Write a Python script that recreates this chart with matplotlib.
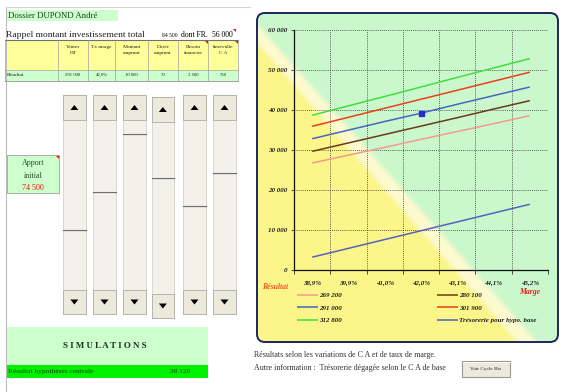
"""Simulation dashboard: résultat selon CA et taux de marge (dossier DUPOND)."""
import numpy as np
import matplotlib
matplotlib.use("Agg")
import matplotlib.pyplot as plt
from matplotlib.patches import Rectangle, FancyBboxPatch, Polygon

W, H = 570, 392
SERIF = ["Liberation Serif", "DejaVu Serif"]

# ── Data ──────────────────────────────────────────────────────────────────────
MARGINS = ["38,9%", "39,9%", "41,0%", "42,0%", "43,1%", "44,1%", "45,2%"]
RES_269200 = [26700, 28650, 30600, 32600, 34550, 36500, 38500]
RES_280100 = [29600, 31700, 33800, 35900, 38000, 40150, 42250]
RES_291000 = [32750, 34900, 37050, 39120, 41350, 43500, 45650]
RES_301900 = [35850, 38100, 40350, 42600, 44850, 47100, 49350]
RES_312800 = [38600, 40950, 43300, 45650, 48050, 50400, 52750]
TRESORERIE = [3200, 5400, 7600, 9800, 12000, 14200, 16400]
CENTRAL_MARGIN = "42,0%"
CENTRAL_RESULT = 39120
Y_TICKS = [0, 10000, 20000, 30000, 40000, 50000, 60000]

SERIES = [
    ("269 200", RES_269200, "#F29C8E"),
    ("280 100", RES_280100, "#6B3A1A"),
    ("291 000", RES_291000, "#4466C4"),
    ("301 900", RES_301900, "#E8401C"),
    ("312 800", RES_312800, "#3EE03E"),
    ("Trésorerie pour hypo. base", TRESORERIE, "#5561C0"),
]

TABLE_HEADERS = ["Ventes\nHT", "Tx marge", "Montant\nemprunt", "Durée\nemprunt",
                 "Besoin\nfinancier", "Intervalle\nC A"]
TABLE_VALUES = ["291 000", "42,0%", "10 000", "70", "2 500", "750"]
INVEST_TOTAL = "84 500"
INVEST_FR = "56 000"
APPORT = "74 500"

# ── Layout (pixels) ───────────────────────────────────────────────────────────
COL_EDGES = [5, 58, 88, 115, 148, 178, 208, 238]
SLIDERS = [(62.7, 86), (93, 116), (123, 146), (151.7, 174), (183, 206), (213, 236)]
SLIDER_THUMBS = [230, 192, 134, 178, 205.7, 172.7]

YELLOW = np.array([251, 245, 138]) / 255
PALE = np.array([252, 250, 206]) / 255
GREEN = np.array([203, 247, 204]) / 255


def red_mark(ax, x, y):
    ax.add_patch(Polygon([(x - 3, y), (x, y), (x, y + 3)], closed=True,
                         fc="#E01010", ec="none", zorder=6))


def draw_slider(ax, x0, x1, top, bottom, thumb):
    ax.add_patch(Rectangle((x0, top), x1 - x0, bottom - top, fc="#F3F1EA",
                           ec="#D6D3C6", lw=0.6, zorder=2))
    cx = (x0 + x1) / 2
    for yt, yb, up in [(top, top + 25, True), (bottom - 24, bottom, False)]:
        ax.add_patch(Rectangle((x0, yt), x1 - x0, yb - yt, fc="#ECE9DD",
                               ec="#B0ADA0", lw=0.6, zorder=3))
        cy = (yt + yb) / 2
        s = 1 if up else -1
        tri = [(cx - 4, cy + 2.5 * s), (cx + 4, cy + 2.5 * s), (cx, cy - 2.5 * s)]
        ax.add_patch(Polygon(tri, closed=True, fc="black", ec="none", zorder=4))
    ax.plot([x0, x1], [thumb - 1, thumb - 1], color="#FFFFFF", lw=0.6, zorder=3)
    ax.plot([x0, x1], [thumb, thumb], color="#6E6E6E", lw=0.9, zorder=3)


fig = plt.figure(figsize=(W / 100, H / 100), dpi=100)
fig.patch.set_facecolor("white")
bg = fig.add_axes([0, 0, 1, 1])
bg.axis("off")

# ── Left panel ────────────────────────────────────────────────────────────────
bg.plot([5.5, 5.5], [7, H], color="#BDBDBD", lw=0.8)
bg.plot([5.5, 250], [7, 7], color="#D5D5D5", lw=0.8)

bg.add_patch(Rectangle((6, 10), 112, 10.5, fc="#CCFFCC", ec="none"))
bg.text(8, 15.5, "Dossier DUPOND André", family=SERIF, fontsize=6.3,
        color="#1E3C1E", va="center")
bg.text(6, 35, "Rappel montant investissement total", family=SERIF,
        fontsize=6.8, color="#202020", va="center")
bg.text(178, 35, INVEST_TOTAL, family=SERIF, fontsize=4, ha="right", va="center")
bg.text(181, 35, "dont FR.", family=SERIF, fontsize=5.5, va="center")
bg.text(233, 35, INVEST_FR, family=SERIF, fontsize=5.5, ha="right", va="center")
red_mark(bg, 236, 29)

# table
bg.add_patch(Rectangle((5, 40), 233, 30, fc="#FFFF99", ec="none"))
bg.add_patch(Rectangle((5, 70), 233, 10.5, fc="#CCFFCC", ec="none"))
bg.plot([5, 238], [40, 40], color="#707070", lw=0.8)
bg.plot([5, 238], [70, 70], color="#A8A8A8", lw=0.5)
bg.plot([5, 238], [80.5, 80.5], color="#909090", lw=0.6)
for xe in COL_EDGES:
    bg.plot([xe, xe], [40, 80.5], color="#A0A0A0", lw=0.5)
for i, (hd, val) in enumerate(zip(TABLE_HEADERS, TABLE_VALUES)):
    cx = (COL_EDGES[i + 1] + COL_EDGES[i + 2]) / 2
    bg.text(cx, 44.5, hd, family=SERIF, fontsize=3.9, ha="center", va="top",
            linespacing=1.9, color="#202020")
    bg.text(cx, 75.3, val, family=SERIF, fontsize=3.4, ha="center",
            va="center", color="#202020")
bg.text(7, 75.3, "Résultat", family=SERIF, fontsize=3.8, va="center",
        color="#202020")
red_mark(bg, 207.5, 40.5)
red_mark(bg, 237.5, 40.5)

# sliders
for k, ((x0, x1), th) in enumerate(zip(SLIDERS, SLIDER_THUMBS)):
    top, bottom = (97, 318) if k == 3 else (95, 314)
    draw_slider(bg, x0, x1, top, bottom, th)

# apport initial
bg.add_patch(Rectangle((6.7, 155), 52.3, 38, fc="#CCFFCC", ec="#A0A0A0", lw=0.6))
bg.text(33, 163, "Apport", family=SERIF, fontsize=5.8, ha="center", va="center",
        color="#2E4A2E")
bg.text(33, 175.5, "initial", family=SERIF, fontsize=5.8, ha="center",
        va="center", color="#2E4A2E")
bg.text(33, 187.5, APPORT, family=SERIF, fontsize=5.8, ha="center", va="center",
        color="#E01818")
red_mark(bg, 59, 155.5)

# simulations block
bg.add_patch(Rectangle((6.7, 327), 201.3, 38, fc="#CCFFCC", ec="none"))
bg.text(105, 346, "S I M U L A T I O N S", family=SERIF, fontsize=6.4,
        fontweight="bold", ha="center", va="center", color="#203020")
bg.add_patch(Rectangle((6.7, 365), 201.3, 13, fc="#00F000", ec="none"))
bg.text(8, 371.5, "Résultat hypothèses centrale", family=SERIF, fontsize=5.4,
        va="center", color="#1A401A")
bg.text(190, 371.5, f"{CENTRAL_RESULT:,}".replace(",", " "), family=SERIF,
        fontsize=5.4, ha="right", va="center", color="#1A401A")

# ── Chart frame with diagonal background ──────────────────────────────────────
bx0, by0, bx1, by1 = 257, 13, 558, 342
xs = np.arange(bx0, bx1) + 0.5
ys = np.arange(by0, by1) + 0.5
gx, gy = np.meshgrid(xs, ys)
d1 = gx - (350 + 0.87 * (gy - 150))
d2 = gx - (368 + 0.88 * (gy - 150))
t1 = np.clip((d1 + 4) / 8, 0, 1)[..., None]
t2 = np.clip((d2 + 4) / 8, 0, 1)[..., None]
img = YELLOW * (1 - t1) + PALE * t1
img = img * (1 - t2) + GREEN * t2

clip_box = FancyBboxPatch((bx0, by0), bx1 - bx0, by1 - by0,
                          boxstyle="round,pad=0,rounding_size=8",
                          transform=bg.transData, fc="none", ec="none")
bg.add_patch(clip_box)
im = bg.imshow(img, extent=(bx0, bx1, by1, by0), aspect="auto",
               interpolation="bilinear", zorder=1)
im.set_clip_path(clip_box)
bg.add_patch(FancyBboxPatch((bx0, by0), bx1 - bx0, by1 - by0,
                            boxstyle="round,pad=0,rounding_size=8",
                            fc="none", ec="#1A2660", lw=1.4, zorder=5))

bg.text(262, 287, "Résultat", family=SERIF, fontsize=5.6, fontweight="bold",
        fontstyle="italic", color="#F05A28", va="center")
bg.text(540, 291.5, "Marge", family=SERIF, fontsize=5.6, fontweight="bold",
        fontstyle="italic", color="#E02818", va="center", ha="right")

# texts below the chart
bg.text(254, 355, "Résultats selon les variations de C A et de taux de marge.",
        family=SERIF, fontsize=5.7, color="#303030", va="center")
bg.text(254, 368, "Autre information :  Trésorerie dégagée selon le C A de base",
        family=SERIF, fontsize=5.7, color="#303030", va="center")
bg.add_patch(Rectangle((462, 361), 48, 15.5, fc="#ECE9DD", ec="#9A9890", lw=0.8))
bg.plot([462.5, 509.5], [361.5, 361.5], color="white", lw=0.6)
bg.text(486, 369, "Voir Cycle Bis", family=SERIF, fontsize=3.8, ha="center",
        va="center", color="#202020")

bg.set_xlim(0, W)
bg.set_ylim(H, 0)

# ── Plot ──────────────────────────────────────────────────────────────────────
ax = fig.add_axes([294 / W, 1 - 270 / H, (548 - 294) / W, (270 - 29.5) / H])
ax.set_facecolor("none")
x = np.arange(len(MARGINS))
handles = {}
for label, vals, color in SERIES:
    (ln,) = ax.plot(x, vals, color=color, lw=1.1, solid_capstyle="butt")
    handles[label] = ln
ax.plot(MARGINS.index(CENTRAL_MARGIN), CENTRAL_RESULT, marker="s", ms=3.6,
        color="#1F30D0", zorder=5)

ax.set_xlim(-0.5, len(MARGINS) - 0.5)
ax.set_ylim(0, 60000)
ax.set_yticks(Y_TICKS, [f"{v:,}".replace(",", " ") for v in Y_TICKS])
ax.set_xticks(x, MARGINS)
ax.set_xticks(np.arange(len(MARGINS) + 1) - 0.5, minor=True)
ax.tick_params(axis="x", which="major", length=0, pad=7.5)
ax.tick_params(axis="x", which="minor", length=3, width=0.6, color="#303030")
ax.tick_params(axis="y", length=2.5, width=0.6, pad=2, color="#303030")
for lab in ax.get_xticklabels() + ax.get_yticklabels():
    lab.set_family(SERIF)
    lab.set_fontsize(5)
    lab.set_fontweight("bold")
    lab.set_fontstyle("italic")
    lab.set_color("#202020")
ax.grid(True, axis="y", which="major", ls=(0, (1, 1.5)), color="#303030", lw=0.6)
ax.grid(True, axis="x", which="minor", ls=(0, (1, 1.5)), color="#303030", lw=0.6)
for side in ("top", "right"):
    ax.spines[side].set_visible(False)
for side in ("left", "bottom"):
    ax.spines[side].set_linewidth(0.9)
    ax.spines[side].set_color("#101010")

legend_kw = dict(loc="upper left", bbox_transform=fig.transFigure, frameon=False,
                 prop={"family": SERIF, "size": 5, "weight": "bold",
                       "style": "italic"},
                 labelcolor="#202020", handlelength=3.0, handletextpad=0.15,
                 labelspacing=0.95, borderpad=0, borderaxespad=0)
col1 = ["269 200", "291 000", "312 800"]
col2 = ["280 100", "301 900", "Trésorerie pour hypo. base"]
leg1 = ax.legend([handles[k] for k in col1], col1,
                 bbox_to_anchor=(297 / W, 1 - 292.5 / H), **legend_kw)
ax.add_artist(leg1)
ax.legend([handles[k] for k in col2], col2,
          bbox_to_anchor=(437 / W, 1 - 292.5 / H), **legend_kw)

fig.savefig("out.png", dpi=100)
